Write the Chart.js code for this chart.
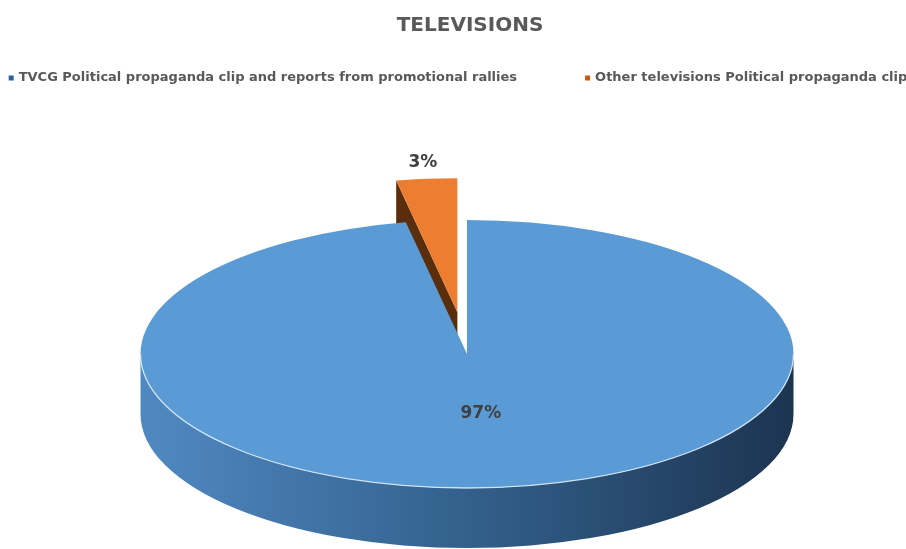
<!DOCTYPE html>
<html><head><meta charset="utf-8">
<script src="https://cdn.jsdelivr.net/npm/chart.js@4.4.0/dist/chart.umd.min.js"></script>
<style>html,body{margin:0;padding:0;background:#fff;}</style>
</head><body>
<canvas id="c" width="906" height="549"></canvas>
<script>
// ---- data ----
const titleText = 'TELEVISIONS';
const categories = [
  'TVCG Political propaganda clip and reports from promotional rallies',
  'Other televisions Political propaganda clip'
];
const shares = [97, 3];
const valueLabels = ['97%', '3%'];
const exploded = [false, true];

// ---- styles ----
const topColors = ['#5b9bd5', '#ed7d31'];
const sideStops = [['#5089c2', '#33608c', '#1c3450'], ['#6b3510', '#5a2d0c', '#3f1f08']];
const legendColors = ['#2f5f98', '#c55a11'];
const labelRadius = [0.45, 1.12];
const FONT = '"DejaVu Sans"';
const TEXT_COLOR = '#595959';

// 3D view geometry (screen)
const VIEW = { cx: 467, cy: 354, rx: 326.5, ry: 134, depth: 60, explodeY: 42 };
const R = 150; // pie radius in chart space
const SX = VIEW.rx / R, SY = VIEW.ry / R;
const EXPLODE = VIEW.explodeY / SY;

let base = { x: 0, y: 0 };
function T(x, y) { return { x: VIEW.cx + (x - base.x) * SX, y: VIEW.cy + (y - base.y) * SY }; }

const pie3d = {
  id: 'pie3d',
  afterDatasetsUpdate(chart) {
    const meta = chart.getDatasetMeta(0);
    base = { x: meta.data[0].x, y: meta.data[0].y };
    meta.data.forEach((el, i) => {
      if (exploded[i]) {
        const mid = (el.startAngle + el.endAngle) / 2;
        el.x = base.x + Math.cos(mid) * EXPLODE;
        el.y = base.y + Math.sin(mid) * EXPLODE;
      }
    });
  },
  beforeDatasetsDraw(chart) {
    const ctx = chart.ctx;
    const meta = chart.getDatasetMeta(0);
    meta.data.forEach((el, i) => {
      const P = T(el.x, el.y);
      const r = el.outerRadius;
      const stops = sideStops[i];
      // radial faces
      const faces = [[el.startAngle, -1], [el.endAngle, 1]];
      faces.forEach(([a, dir]) => {
        const visible = dir < 0 ? Math.cos(a) < -1e-6 : Math.cos(a) > 1e-6;
        if (!visible) return;
        const Q = T(el.x + r * Math.cos(a), el.y + r * Math.sin(a));
        ctx.save();
        ctx.beginPath();
        ctx.moveTo(P.x, P.y);
        ctx.lineTo(Q.x, Q.y);
        ctx.lineTo(Q.x, Q.y + VIEW.depth);
        ctx.lineTo(P.x, P.y + VIEW.depth);
        ctx.closePath();
        ctx.fillStyle = stops[1];
        ctx.fill();
        ctx.restore();
      });
      // outer wall (front half only)
      [0, 2 * Math.PI].forEach(k => {
        const a0 = Math.max(el.startAngle, k), a1 = Math.min(el.endAngle, k + Math.PI);
        if (a1 <= a0) return;
        ctx.save();
        const g = ctx.createLinearGradient(P.x - VIEW.rx, 0, P.x + VIEW.rx, 0);
        g.addColorStop(0, stops[0]);
        g.addColorStop(0.5, stops[1]);
        g.addColorStop(1, stops[2]);
        ctx.fillStyle = g;
        ctx.beginPath();
        ctx.ellipse(P.x, P.y, VIEW.rx, VIEW.ry, 0, a0, a1, false);
        ctx.ellipse(P.x, P.y + VIEW.depth, VIEW.rx, VIEW.ry, 0, a1, a0, true);
        ctx.closePath();
        ctx.fill();
        ctx.restore();
      });
    });
    ctx.save();
    ctx.translate(VIEW.cx, VIEW.cy);
    ctx.scale(SX, SY);
    ctx.translate(-base.x, -base.y);
  },
  afterDatasetsDraw(chart) {
    const ctx = chart.ctx;
    ctx.restore();
    const meta = chart.getDatasetMeta(0);
    meta.data.forEach((el, i) => {
      const P = T(el.x, el.y);
      [0, 2 * Math.PI].forEach(k => {
        const a0 = Math.max(el.startAngle, k), a1 = Math.min(el.endAngle, k + Math.PI);
        if (a1 <= a0) return;
        ctx.save();
        ctx.strokeStyle = 'rgba(225,238,250,0.85)';
        ctx.lineWidth = 1.3;
        ctx.beginPath();
        ctx.ellipse(P.x, P.y, VIEW.rx, VIEW.ry, 0, a0, a1, false);
        ctx.stroke();
        ctx.restore();
      });
    });
    // value labels
    ctx.save();
    ctx.font = 'bold 17px ' + FONT;
    ctx.fillStyle = '#404040';
    ctx.textAlign = 'center';
    ctx.textBaseline = 'middle';
    meta.data.forEach((el, i) => {
      const mid = (el.startAngle + el.endAngle) / 2;
      const k = labelRadius[i] * el.outerRadius;
      const p = T(el.x + Math.cos(mid) * k, el.y + Math.sin(mid) * k);
      ctx.fillText(valueLabels[i], p.x, p.y);
    });
    ctx.restore();
  },
  afterDraw(chart) {
    // legend
    const ctx = chart.ctx;
    ctx.save();
    ctx.font = 'bold 13px ' + FONT;
    ctx.textBaseline = 'middle';
    const box = 5, gapBox = 5, gapItem = 68, y = 78;
    const widths = categories.map(t => ctx.measureText(t).width);
    let total = 0;
    widths.forEach((w, i) => { total += box + gapBox + w + (i ? gapItem : 0); });
    let x = 458 - total / 2;
    categories.forEach((t, i) => {
      ctx.fillStyle = legendColors[i];
      ctx.fillRect(x, y - box / 2, box, box);
      x += box + gapBox;
      ctx.fillStyle = TEXT_COLOR;
      ctx.fillText(t, x, y);
      x += widths[i] + gapItem;
    });
    ctx.restore();
  }
};

new Chart(document.getElementById('c'), {
  type: 'pie',
  data: {
    labels: categories,
    datasets: [{
      data: shares,
      backgroundColor: topColors,
      borderWidth: 0,
      clip: false
    }]
  },
  options: {
    responsive: false,
    animation: false,
    radius: R,
    events: [],
    layout: { padding: { left: 34 } },
    plugins: {
      legend: { display: false },
      tooltip: { enabled: false },
      title: {
        display: true,
        text: titleText,
        color: TEXT_COLOR,
        font: { family: 'DejaVu Sans', size: 20, weight: 'bold' },
        padding: { top: 14, bottom: 10 }
      }
    }
  },
  plugins: [pie3d]
});
</script>
</body></html>
